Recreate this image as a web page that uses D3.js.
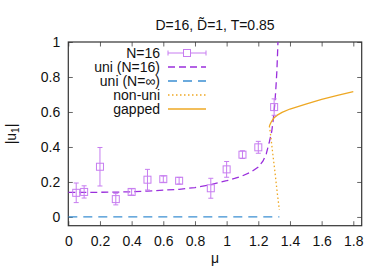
<!DOCTYPE html>
<html>
<head>
<meta charset="utf-8">
<script src="https://cdn.jsdelivr.net/npm/d3@7"></script>
<style>
body{margin:0;background:white;}
text{font-family:"Liberation Sans",Arial,sans-serif;font-size:14px;fill:#111;}
</style>
</head>
<body>
<div id="viz-container"></div>
<script>
// N=16 data points with error bars
let ptMu  = [0.05, 0.1, 0.2, 0.3, 0.4, 0.5, 0.6, 0.7, 0.9, 1.0, 1.1, 1.2, 1.3];
let ptVal = [0.138, 0.143, 0.287, 0.102, 0.143, 0.213, 0.216, 0.207, 0.164, 0.272, 0.356, 0.398, 0.628];
let ptErr = [0.056, 0.035, 0.11, 0.033, 0.018, 0.059, 0.018, 0.019, 0.057, 0.045, 0.022, 0.034, 0.047];

// uni (N=16)
let uniMu  = [0, 0.1, 0.2, 0.3, 0.4, 0.5, 0.6, 0.7, 0.8, 0.9, 1.0, 1.05, 1.1, 1.15, 1.2, 1.23, 1.25, 1.27, 1.285, 1.295, 1.305, 1.312, 1.317, 1.321, 1.324];
let uniVal = [0.14, 0.14, 0.141, 0.142, 0.144, 0.148, 0.153, 0.158, 0.168, 0.185, 0.207, 0.22, 0.235, 0.255, 0.285, 0.32, 0.36, 0.43, 0.49, 0.56, 0.655, 0.75, 0.83, 0.92, 1.0];

// uni (N=inf)
let infMu  = [0, 1.333];
let infVal = [0, 0];

// non-uni
let nuMu  = [1.27, 1.279, 1.291, 1.306, 1.32, 1.333];
let nuVal = [0.52, 0.459, 0.364, 0.25, 0.135, 0.04];

// gapped
let gapMu  = [1.27, 1.28, 1.29, 1.3, 1.32, 1.35, 1.4, 1.5, 1.6, 1.7, 1.8];
let gapVal = [0.52, 0.54, 0.555, 0.567, 0.582, 0.598, 0.617, 0.645, 0.672, 0.695, 0.716];

let xTicks = [0, 0.2, 0.4, 0.6, 0.8, 1, 1.2, 1.4, 1.6, 1.8];
let yTicks = [0, 0.2, 0.4, 0.6, 0.8, 1];

let W = 387, H = 271;
let mLeft = 68.3, mRight = 361.7, mTop = 42, mBottom = 225.7;

let viz = d3.select("#viz-container")
                .append("svg")
                    .attr("width", W)
                    .attr("height", H)
;

let x = d3.scaleLinear().domain([0, 1.853]).range([mLeft, mRight]);
let y = d3.scaleLinear().domain([-0.05, 1]).range([mBottom, mTop]);

viz.append("clipPath").attr("id", "clip")
    .append("rect")
        .attr("x", mLeft).attr("y", mTop)
        .attr("width", mRight - mLeft).attr("height", mBottom - mTop);

// axes with inward ticks, mirrored
let tl = 4.5;
viz.append("g")
    .attr("transform", "translate(0," + mBottom + ")")
    .call(d3.axisBottom(x).tickValues(xTicks).tickSize(-tl).tickPadding(10).tickFormat(d3.format("")));
viz.append("g")
    .attr("transform", "translate(0," + mTop + ")")
    .call(d3.axisTop(x).tickValues(xTicks).tickSize(-tl).tickFormat(""));
viz.append("g")
    .attr("transform", "translate(" + mLeft + ",0)")
    .call(d3.axisLeft(y).tickValues(yTicks).tickSize(-tl).tickPadding(8).tickFormat(d3.format("")));
viz.append("g")
    .attr("transform", "translate(" + mRight + ",0)")
    .call(d3.axisRight(y).tickValues(yTicks).tickSize(-tl).tickFormat(""));

viz.selectAll(".domain").remove();
viz.selectAll(".tick line").attr("stroke", "#666");
viz.selectAll(".tick text").attr("font-size", 14).attr("font-family", "Liberation Sans, Arial, sans-serif").attr("fill", "#111");

viz.append("rect")
    .attr("x", mLeft).attr("y", mTop)
    .attr("width", mRight - mLeft).attr("height", mBottom - mTop)
    .attr("fill", "none")
    .attr("stroke", "#333")
    .attr("stroke-width", 1.2);

let plot = viz.append("g").attr("clip-path", "url(#clip)");

function lineOf(mu, val){
    return d3.line().x(function(d, i){ return x(mu[i]); }).y(function(d, i){ return y(val[i]); })(mu);
}

let cPt = "#c77df0";
let cUni = "#9a2fdc";
let cInf = "#3b8fd2";
let cOr = "#eea824";

plot.append("path").attr("d", lineOf(infMu, infVal))
    .attr("fill", "none").attr("stroke", cInf).attr("stroke-width", 1.3).attr("stroke-dasharray", "9,6");

plot.append("path").attr("d", lineOf(uniMu, uniVal))
    .attr("fill", "none").attr("stroke", cUni).attr("stroke-width", 1.3).attr("stroke-dasharray", "7,4");

plot.append("path").attr("d", lineOf(nuMu, nuVal))
    .attr("fill", "none").attr("stroke", cOr).attr("stroke-width", 1.3).attr("stroke-dasharray", "1.5,2.5");

plot.append("path").attr("d", lineOf(gapMu, gapVal))
    .attr("fill", "none").attr("stroke", cOr).attr("stroke-width", 1.3);

// points with y error bars
let pts = plot.selectAll(".pt").data(ptMu).enter().append("g").attr("class", "pt");
pts.append("line")
    .attr("x1", function(d){ return x(d); }).attr("x2", function(d){ return x(d); })
    .attr("y1", function(d, i){ return y(ptVal[i] - ptErr[i]); })
    .attr("y2", function(d, i){ return y(ptVal[i] + ptErr[i]); })
    .attr("stroke", cPt).attr("stroke-width", 1);
pts.append("line")
    .attr("x1", function(d){ return x(d) - 2.5; }).attr("x2", function(d){ return x(d) + 2.5; })
    .attr("y1", function(d, i){ return y(ptVal[i] - ptErr[i]); })
    .attr("y2", function(d, i){ return y(ptVal[i] - ptErr[i]); })
    .attr("stroke", cPt).attr("stroke-width", 1);
pts.append("line")
    .attr("x1", function(d){ return x(d) - 2.5; }).attr("x2", function(d){ return x(d) + 2.5; })
    .attr("y1", function(d, i){ return y(ptVal[i] + ptErr[i]); })
    .attr("y2", function(d, i){ return y(ptVal[i] + ptErr[i]); })
    .attr("stroke", cPt).attr("stroke-width", 1);
pts.append("rect")
    .attr("x", function(d){ return x(d) - 3.5; })
    .attr("y", function(d, i){ return y(ptVal[i]) - 3.5; })
    .attr("width", 7).attr("height", 7)
    .attr("fill", "none").attr("stroke", cPt).attr("stroke-width", 1);

// legend
let legNames = ["N=16", "uni (N=16)", "uni (N=\u221E)", "non-uni", "gapped"];
let legY = [53, 67, 81, 95, 109];
let lx0 = 168, lx1 = 206;
viz.selectAll(".legText").data(legNames).enter().append("text")
    .attr("class", "legText")
    .attr("x", 160)
    .attr("y", function(d, i){ return legY[i] + 5; })
    .attr("text-anchor", "end")
    .text(function(d){ return d; });

let leg = viz.append("g");
leg.append("line").attr("x1", lx0).attr("x2", lx1).attr("y1", legY[0]).attr("y2", legY[0]).attr("stroke", cPt);
leg.append("line").attr("x1", lx0).attr("x2", lx0).attr("y1", legY[0] - 2.5).attr("y2", legY[0] + 2.5).attr("stroke", cPt);
leg.append("line").attr("x1", lx1).attr("x2", lx1).attr("y1", legY[0] - 2.5).attr("y2", legY[0] + 2.5).attr("stroke", cPt);
leg.append("rect").attr("x", (lx0 + lx1) / 2 - 3.5).attr("y", legY[0] - 3.5).attr("width", 7).attr("height", 7)
    .attr("fill", "white").attr("stroke", cPt);
leg.append("line").attr("x1", lx0).attr("x2", lx1).attr("y1", legY[1]).attr("y2", legY[1])
    .attr("stroke", cUni).attr("stroke-width", 1.3).attr("stroke-dasharray", "7,4");
leg.append("line").attr("x1", lx0).attr("x2", lx1).attr("y1", legY[2]).attr("y2", legY[2])
    .attr("stroke", cInf).attr("stroke-width", 1.3).attr("stroke-dasharray", "9,6");
leg.append("line").attr("x1", lx0).attr("x2", lx1).attr("y1", legY[3]).attr("y2", legY[3])
    .attr("stroke", cOr).attr("stroke-width", 1.3).attr("stroke-dasharray", "1.5,2.5");
leg.append("line").attr("x1", lx0).attr("x2", lx1).attr("y1", legY[4]).attr("y2", legY[4])
    .attr("stroke", cOr).attr("stroke-width", 1.3);

// title and axis labels
viz.append("text").attr("x", 215).attr("y", 30).attr("text-anchor", "middle")
    .text("D=16, D\u0303=1, T=0.85");
viz.append("text").attr("x", 215).attr("y", 263).attr("text-anchor", "middle").text("\u03BC");

let yl = viz.append("text").attr("text-anchor", "middle")
    .attr("transform", "translate(16,134) rotate(-90)");
yl.append("tspan").text("|u");
yl.append("tspan").attr("font-size", 10).attr("dy", 3).text("1");
yl.append("tspan").attr("dy", -3).text("|");
</script>
</body>
</html>
